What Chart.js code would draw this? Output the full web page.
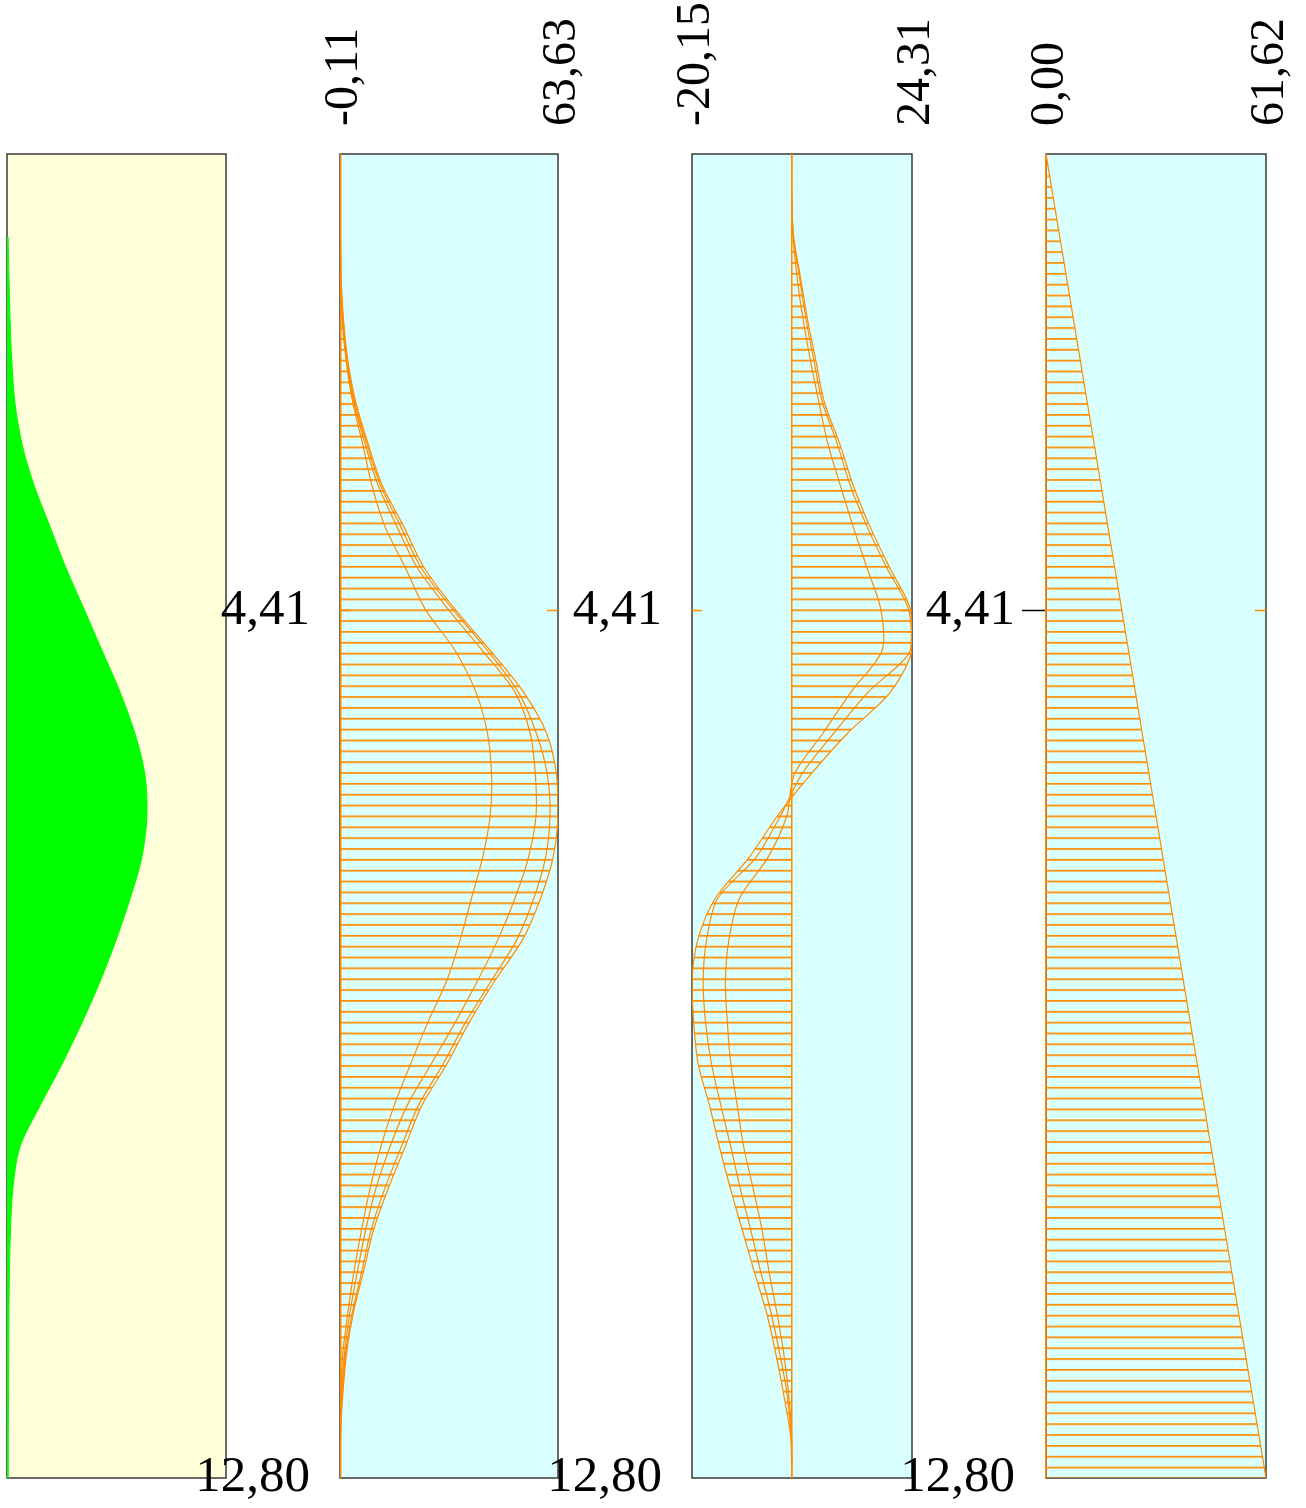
<!DOCTYPE html>
<html>
<head>
<meta charset="utf-8">
<script src="https://cdn.jsdelivr.net/npm/chart.js@4.4.1/dist/chart.umd.min.js"></script>
<style>
  html, body { margin: 0; padding: 0; background: #fff; }
  #wrap { position: relative; width: 1306px; height: 1508px; overflow: hidden; }
  canvas { position: absolute; top: 0; }
</style>
</head>
<body>
<div id="wrap">
  <canvas id="c1" style="left:0px" width="240" height="1508"></canvas>
  <canvas id="c2" style="left:170px" width="450" height="1508"></canvas>
  <canvas id="c3" style="left:525px" width="445" height="1508"></canvas>
  <canvas id="c4" style="left:880px" width="426" height="1508"></canvas>
</div>
<script>
// depth (m), shared by every profile
const depth = [0, 0.4, 0.8, 1.2, 1.6, 2.0, 2.4, 2.8, 3.2, 3.6, 4.0, 4.4, 4.8, 5.2, 5.6, 6.0,
  6.4, 6.8, 7.2, 7.6, 8.0, 8.4, 8.8, 9.2, 9.6, 10.0, 10.4, 10.8, 11.2, 11.6, 12.0, 12.4, 12.8];

// panel 1: green profile
const soil = [null, null, 0.5, 0.9, 1.4, 2.2, 3.6, 6.8, 12.3, 19.6, 26.9, 35.2, 43.4, 51.6, 58.4, 63.0,
  63.9, 61.6, 56.2, 49.8, 42.5, 34.2, 25.1, 15.1, 5.9, 2.7, 1.6, 1.1, 0.9, 0.8, 0.7, 0.6, 0.6];

// panel 2: four cases
const p2A = [0, 0, 0, 0.2, 0.9, 2.2, 4.5, 8.1, 12.2, 18.5, 24.5, 33.5, 43.8, 53.5, 60.3, 63.2,
  63.63, 62.2, 58.5, 53.2, 45.0, 37.6, 31.1, 23.8, 18.9, 14.0, 9.7, 6.8, 3.8, 1.8, 0.7, 0, 0];
const p2B = [0, 0, 0, 0.2, 0.8, 2.0, 4.2, 7.7, 11.7, 17.6, 23.6, 32.8, 43.0, 52.0, 57.3, 60.5,
  61.3, 60.0, 56.5, 51.5, 44.0, 36.5, 30.0, 22.8, 17.8, 13.0, 9.0, 6.3, 3.5, 1.5, 0.5, 0, 0];
const p2C = [0, 0, 0, 0.1, 0.7, 1.9, 3.9, 7.2, 11.0, 16.5, 22.5, 31.5, 41.5, 51.0, 55.5, 57.0,
  57.2, 55.0, 51.0, 46.0, 40.0, 33.5, 26.5, 19.5, 14.5, 10.4, 7.4, 5.0, 2.8, 1.2, 0.4, 0, 0];
const p2D = [0, 0, 0, 0.1, 0.5, 1.7, 3.6, 6.5, 9.2, 13.0, 19.0, 24.8, 33.5, 39.6, 43.0, 44.2,
  43.8, 41.6, 38.3, 35.0, 31.0, 25.5, 20.5, 15.7, 11.8, 8.7, 6.2, 4.0, 2.2, 0.7, 0.2, 0, 0];

// panel 3: three cases
const p3P = [0, 0, 0.4, 1.8, 3.2, 4.9, 6.6, 9.7, 12.4, 15.8, 19.8, 24.0, 24.31, 20.0, 11.3, 3.8,
  -2.9, -8.6, -15.5, -19.0, -20.15, -19.8, -18.9, -16.6, -14.6, -12.4, -10.0, -7.6, -5.1, -3.2, -1.6, -0.2, 0];
const p3Q = [0, 0, 0.3, 1.6, 2.9, 4.5, 6.2, 9.2, 11.8, 15.2, 19.2, 23.6, 24.0, 15.5, 8.5, 2.0,
  -2.3, -7.2, -15.0, -17.2, -17.9, -17.4, -16.2, -14.3, -12.3, -10.4, -8.3, -6.3, -4.2, -2.4, -0.9, -0.1, 0];
const p3R = [0, 0, 0.3, 1.1, 2.3, 3.8, 5.5, 7.3, 9.8, 12.4, 15.2, 18.0, 18.25, 12.0, 6.3, 0.5,
  -1.0, -4.8, -10.6, -12.7, -13.4, -13.0, -12.3, -11.0, -9.7, -7.8, -6.0, -4.6, -3.0, -1.6, -0.6, 0, 0];

// panel 4
const p4 = [0, 1.93, 3.85, 5.78, 7.70, 9.63, 11.55, 13.48, 15.41, 17.33, 19.26, 21.18, 23.11, 25.03,
  26.96, 28.88, 30.81, 32.74, 34.66, 36.59, 38.51, 40.44, 42.36, 44.29, 46.22, 48.14, 50.07,
  51.99, 53.92, 55.84, 57.77, 59.69, 61.62];

// axis labels
const p2Ticks = [-0.11, 63.63];
const p3Ticks = [-20.15, 24.31];
const p4Ticks = [0, 61.62];
const depthTicks = [4.41, 12.80];
const depthMax = 12.8;

const ORANGE = '#ff8c00';
const SERIF = "'Liberation Serif', 'Times New Roman', serif";
const HATCH_ROWS = 122;

const fmt = v => v.toFixed(2).replace('.', ',');
const pts = vals => depth.map((d, i) => ({ x: vals[i], y: d }));

// background + frame of each panel, drawn under grid and data
const panelBox = {
  id: 'panelBox',
  beforeDraw(chart, args, opts) {
    const { ctx, chartArea: a } = chart;
    ctx.save();
    ctx.fillStyle = opts.bg;
    ctx.fillRect(a.left, a.top, a.width, a.height);
    ctx.strokeStyle = '#3a3a3a';
    ctx.lineWidth = 1.5;
    ctx.strokeRect(a.left, a.top, a.width, a.height);
    ctx.restore();
    if (opts.pattern) {
      const step = a.height / HATCH_ROWS;
      opts.pattern.setTransform(new DOMMatrix().translate(0, a.top - 0.5).scale(1, step / 11));
    }
  }
};

function hatch(ctx) {
  const tile = document.createElement('canvas');
  tile.width = 8;
  tile.height = 11;
  const t = tile.getContext('2d');
  t.fillStyle = ORANGE;
  t.fillRect(0, 0, 8, 1);
  t.globalAlpha = 0.75;
  t.fillRect(0, 1, 8, 1);
  return ctx.createPattern(tile, 'repeat');
}

const noPad = s => { s.paddingTop = 0; s.paddingBottom = 0; };

function panel(id, cfg) {
  const canvas = document.getElementById(id);
  const pattern = cfg.hatched ? hatch(canvas.getContext('2d')) : null;
  const datasets = cfg.series.map((vals, i) => ({
    data: pts(vals),
    borderColor: cfg.lineColor || ORANGE,
    borderWidth: cfg.lineWidth || 1.2,
    backgroundColor: i === 0 ? (cfg.fillColor || pattern) : 'transparent',
    fill: i === 0 ? 'origin' : false,
    pointRadius: 0,
    tension: 0.3,
  }));

  const scales = {
    x: {
      type: 'linear', position: 'top', min: cfg.min, max: cfg.max,
      afterFit: s => { s.height = 154; },
      afterBuildTicks: s => { s.ticks = (cfg.ticks || []).map(v => ({ value: v })); },
      ticks: {
        display: !!cfg.ticks, autoSkip: false, minRotation: 90, maxRotation: 90,
        padding: 20, labelOffset: 62,
        color: '#000', font: { family: SERIF, size: 48 }, callback: v => fmt(v),
      },
      grid: { display: false },
      border: { display: false },
    },
    y: {
      type: 'linear', position: 'left', reverse: true, min: 0, max: depthMax,
      display: !!cfg.axisW,
      afterFit: s => { s.width = cfg.axisW || 0; noPad(s); },
      afterBuildTicks: s => { s.ticks = depthTicks.map(v => ({ value: v })); },
      ticks: {
        color: '#000', padding: cfg.tickOut ? 7 : 40,
        font: { family: SERIF, size: 51 }, callback: v => fmt(v),
      },
      grid: {
        drawOnChartArea: false,
        tickLength: cfg.tickOut ? 24 : -10,
        tickWidth: 1.5,
        tickColor: c => (c.tick && c.tick.value === depthTicks[0]) ? (cfg.tickOut ? '#000' : ORANGE) : 'transparent',
      },
      border: { display: false },
    },
  };
  if (cfg.hatched) {
    scales.xz = {
      type: 'linear', position: 'top', min: cfg.min, max: cfg.max,
      afterFit: s => { s.height = 0; },
      afterBuildTicks: s => { s.ticks = [{ value: 0 }]; },
      ticks: { display: false },
      grid: { color: ORANGE, lineWidth: 1.5, drawTicks: false },
      border: { display: false },
    };
    scales.yr = {
      type: 'linear', position: 'right', reverse: true, min: 0, max: depthMax,
      afterFit: s => { s.width = 0; noPad(s); },
      afterBuildTicks: s => { s.ticks = depthTicks.map(v => ({ value: v })); },
      ticks: { display: false },
      grid: {
        drawOnChartArea: false, tickLength: -11, tickWidth: 1.5,
        tickColor: c => (c.tick && c.tick.value === depthTicks[0]) ? ORANGE : 'transparent',
      },
      border: { display: false },
    };
  }

  return new Chart(canvas, {
    type: 'line',
    data: { datasets },
    options: {
      responsive: false,
      animation: false,
      events: [],
      indexAxis: 'y',
      layout: { padding: { left: cfg.padL || 0, right: cfg.padR, top: 0, bottom: 30 } },
      plugins: {
        legend: { display: false },
        tooltip: { enabled: false },
        panelBox: { bg: cfg.bg, pattern },
      },
      scales,
    },
    plugins: [panelBox],
  });
}

panel('c1', {
  series: [soil], min: 0, max: 100, padL: 7, padR: 14,
  bg: '#ffffd9', lineColor: '#00ff00', fillColor: '#00ff00', lineWidth: 1,
});
panel('c2', {
  series: [p2A, p2B, p2C, p2D], min: p2Ticks[0], max: p2Ticks[1], ticks: p2Ticks,
  axisW: 170, padR: 62, bg: '#d9ffff', hatched: true,
});
panel('c3', {
  series: [p3P, p3Q, p3R], min: p3Ticks[0], max: p3Ticks[1], ticks: p3Ticks,
  axisW: 167, padR: 58, bg: '#d9ffff', hatched: true,
});
panel('c4', {
  series: [p4], min: p4Ticks[0], max: p4Ticks[1], ticks: p4Ticks,
  axisW: 166, padR: 40, bg: '#d9ffff', hatched: true, tickOut: true,
});
</script>
</body>
</html>
